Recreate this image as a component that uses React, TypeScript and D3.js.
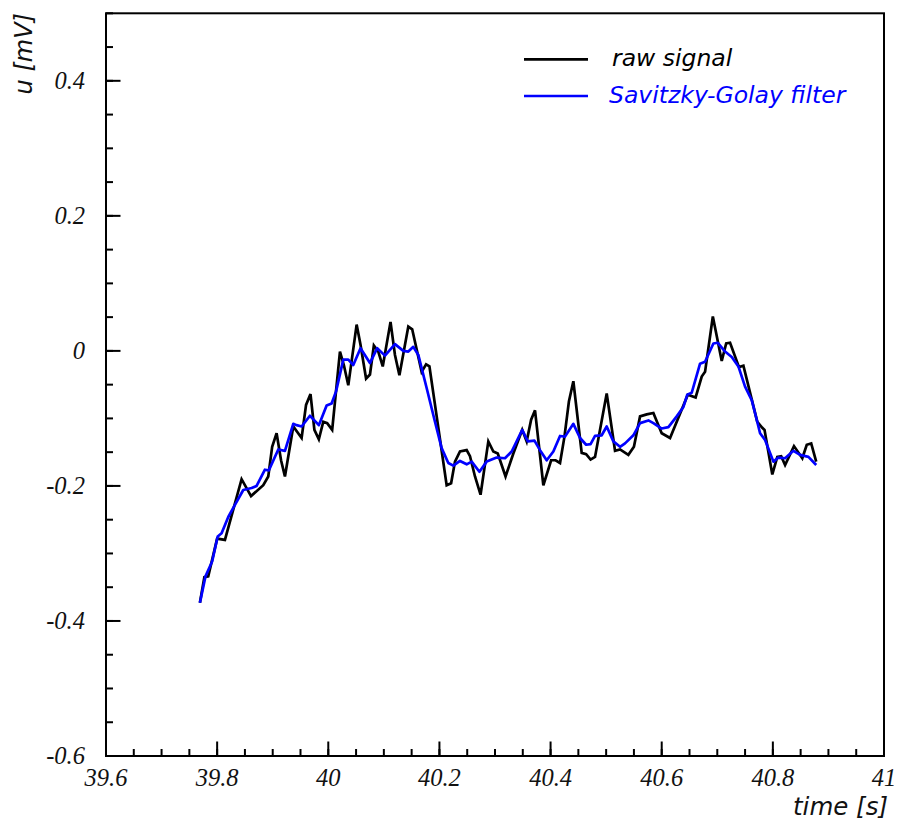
import React from 'react';
import * as d3 from 'd3';

// raw signal vertices (time [s], u [mV])
const rawTime = [
  39.769, 39.777, 39.784, 39.800, 39.814, 39.844, 39.861, 39.883, 39.892, 39.899,
  39.907, 39.915, 39.922, 39.937, 39.952, 39.960, 39.968, 39.975, 39.983, 39.991,
  39.998, 40.007, 40.021, 40.028, 40.036, 40.051, 40.058, 40.068, 40.075, 40.082,
  40.090, 40.098, 40.112, 40.120, 40.128, 40.144, 40.151, 40.168, 40.176, 40.182,
  40.213, 40.221, 40.228, 40.237, 40.249, 40.255, 40.264, 40.274, 40.288, 40.297,
  40.305, 40.319, 40.333, 40.349, 40.357, 40.365, 40.372, 40.387, 40.401, 40.409,
  40.417, 40.425, 40.433, 40.441, 40.456, 40.464, 40.472, 40.480, 40.501, 40.516,
  40.525, 40.540, 40.550, 40.561, 40.573, 40.585, 40.600, 40.615, 40.647, 40.661,
  40.672, 40.678, 40.692, 40.708, 40.716, 40.723, 40.739, 40.747, 40.772, 40.781,
  40.785, 40.799, 40.808, 40.815, 40.822, 40.838, 40.853, 40.861, 40.869, 40.878,
];
const rawValue = [
  -0.373, -0.335, -0.334, -0.278, -0.280, -0.190, -0.215, -0.199, -0.186, -0.142,
  -0.122, -0.162, -0.186, -0.112, -0.129, -0.080, -0.064, -0.117, -0.131, -0.105,
  -0.107, -0.117, -0.001, -0.021, -0.051, 0.039, 0.009, -0.041, -0.035, 0.008,
  -0.001, -0.023, 0.043, -0.006, -0.036, 0.036, 0.032, -0.031, -0.020, -0.023,
  -0.199, -0.196, -0.164, -0.149, -0.147, -0.156, -0.186, -0.213, -0.134, -0.149,
  -0.152, -0.186, -0.152, -0.117, -0.134, -0.102, -0.088, -0.199, -0.162, -0.162,
  -0.166, -0.127, -0.075, -0.045, -0.151, -0.153, -0.161, -0.157, -0.063, -0.148,
  -0.146, -0.154, -0.142, -0.097, -0.094, -0.092, -0.122, -0.129, -0.065, -0.069,
  -0.038, -0.031, 0.051, -0.015, 0.011, 0.012, -0.024, -0.022, -0.105, -0.114,
  -0.117, -0.183, -0.157, -0.156, -0.169, -0.141, -0.159, -0.139, -0.137, -0.164,
];

// Savitzky-Golay filtered signal vertices
const sgTime = [
  39.769, 39.779, 39.791, 39.801, 39.808, 39.820, 39.832, 39.847, 39.862, 39.871,
  39.886, 39.893, 39.910, 39.922, 39.937, 39.943, 39.952, 39.967, 39.983, 39.997,
  40.006, 40.014, 40.027, 40.036, 40.045, 40.058, 40.075, 40.088, 40.102, 40.120,
  40.135, 40.144, 40.153, 40.162, 40.177, 40.192, 40.204, 40.216, 40.225, 40.237,
  40.249, 40.258, 40.272, 40.285, 40.303, 40.318, 40.330, 40.349, 40.359, 40.371,
  40.381, 40.393, 40.405, 40.417, 40.426, 40.441, 40.453, 40.464, 40.472, 40.480,
  40.492, 40.501, 40.513, 40.525, 40.534, 40.549, 40.561, 40.576, 40.585, 40.600,
  40.612, 40.627, 40.639, 40.646, 40.654, 40.669, 40.678, 40.693, 40.701, 40.714,
  40.726, 40.738, 40.750, 40.762, 40.771, 40.777, 40.786, 40.801, 40.810, 40.822,
  40.837, 40.849, 40.864, 40.878,
];
const sgValue = [
  -0.373, -0.334, -0.312, -0.275, -0.270, -0.246, -0.228, -0.206, -0.203, -0.200,
  -0.176, -0.177, -0.146, -0.148, -0.108, -0.110, -0.112, -0.096, -0.110, -0.081,
  -0.078, -0.060, -0.013, -0.013, -0.021, 0.004, -0.018, 0.004, -0.007, 0.010,
  0.000, -0.001, 0.006, -0.006, -0.055, -0.105, -0.144, -0.166, -0.170, -0.163,
  -0.168, -0.164, -0.179, -0.164, -0.158, -0.159, -0.149, -0.117, -0.134, -0.133,
  -0.147, -0.162, -0.149, -0.126, -0.127, -0.108, -0.129, -0.139, -0.138, -0.126,
  -0.125, -0.112, -0.134, -0.142, -0.137, -0.125, -0.107, -0.103, -0.107, -0.115,
  -0.113, -0.097, -0.083, -0.065, -0.062, -0.019, -0.016, 0.011, 0.012, -0.001,
  -0.009, -0.023, -0.053, -0.073, -0.102, -0.122, -0.132, -0.164, -0.158, -0.159,
  -0.148, -0.154, -0.157, -0.169,
];

const xTicks = [39.6, 39.8, 40, 40.2, 40.4, 40.6, 40.8, 41];
const xTickLabels = ['39.6', '39.8', '40', '40.2', '40.4', '40.6', '40.8', '41'];
const yTicks = [-0.6, -0.4, -0.2, 0, 0.2, 0.4];
const yTickLabels = ['-0.6', '-0.4', '-0.2', '0', '0.2', '0.4'];
const seriesNames = ['raw signal', 'Savitzky-Golay filter'];
const seriesColors = ['#000000', '#0000ff'];

const W = 898;
const H = 823;
const L = 106;
const R = 884;
const T = 13.3;
const B = 756;

export default function App() {
  const x = d3.scaleLinear().domain([39.6, 41]).range([L, R]);
  const y = d3.scaleLinear().domain([-0.6, 0.5]).range([B, T]);

  const xMinor = x.ticks(28);
  const yMinor = y.ticks(22);

  const line = d3
    .line<[number, number]>()
    .x((d) => x(d[0]))
    .y((d) => y(d[1]));

  const rawPts: [number, number][] = rawTime.map((t, i) => [t, rawValue[i]]);
  const sgPts: [number, number][] = sgTime.map((t, i) => [t, sgValue[i]]);

  const serif = '"Liberation Serif", "Times New Roman", serif';
  const sans = '"DejaVu Sans", Verdana, sans-serif';

  return (
    <svg
      width={W}
      height={H}
      style={{ position: 'absolute', left: 0, top: 0, background: '#fff' }}
    >
      <rect x={0} y={0} width={W} height={H} fill="#fff" />
      {/* minor ticks */}
      {xMinor.map((v, i) => (
        <line key={'xm' + i} x1={x(v)} x2={x(v)} y1={B} y2={B - 7} stroke="#000" strokeWidth={2} />
      ))}
      {yMinor.map((v, i) => (
        <line key={'ym' + i} x1={L} x2={L + 7} y1={y(v)} y2={y(v)} stroke="#000" strokeWidth={2} />
      ))}
      {/* major ticks */}
      {xTicks.map((v, i) => (
        <line key={'xM' + i} x1={x(v)} x2={x(v)} y1={B} y2={B - 14.5} stroke="#000" strokeWidth={2} />
      ))}
      {yTicks.map((v, i) => (
        <line key={'yM' + i} x1={L} x2={L + 14.5} y1={y(v)} y2={y(v)} stroke="#000" strokeWidth={2} />
      ))}
      {/* tick labels */}
      {xTicks.map((v, i) => (
        <text
          key={'xl' + i}
          x={x(v)}
          y={786}
          textAnchor="middle"
          fontFamily={serif}
          fontStyle="italic"
          fontSize={24.5}
          fill="#111"
        >
          {xTickLabels[i]}
        </text>
      ))}
      {yTicks.map((v, i) => (
        <text
          key={'yl' + i}
          x={85}
          y={y(v) + 8}
          textAnchor="end"
          fontFamily={serif}
          fontStyle="italic"
          fontSize={24.5}
          fill="#111"
        >
          {yTickLabels[i]}
        </text>
      ))}
      {/* axis titles */}
      <text
        x={888}
        y={815}
        textAnchor="end"
        fontFamily={sans}
        fontStyle="italic"
        fontSize={24.5}
        fill="#111"
      >
        time [s]
      </text>
      <text
        transform={`translate(32,13) rotate(-90)`}
        textAnchor="end"
        fontFamily={sans}
        fontStyle="italic"
        fontSize={24}
        fill="#111"
      >
        u [mV]
      </text>
      {/* data */}
      <path d={line(rawPts) || ''} fill="none" stroke={seriesColors[0]} strokeWidth={2.7} strokeLinejoin="miter" />
      <path d={line(sgPts) || ''} fill="none" stroke={seriesColors[1]} strokeWidth={2.7} strokeLinejoin="round" />
      {/* legend */}
      {seriesNames.map((name, i) => {
        const ly = 59.3 + i * 36.7;
        return (
          <g key={'lg' + i}>
            <line x1={524} x2={588} y1={ly} y2={ly} stroke={seriesColors[i]} strokeWidth={2.7} />
            <text
              x={i === 0 ? 612 : 609}
              y={ly + 7}
              fontFamily={sans}
              fontStyle="italic"
              fontSize={23.5}
              fill={seriesColors[i]}
            >
              {name}
            </text>
          </g>
        );
      })}
      {/* frame */}
      <rect x={L} y={T} width={R - L} height={B - T} fill="none" stroke="#000" strokeWidth={2} />
    </svg>
  );
}
